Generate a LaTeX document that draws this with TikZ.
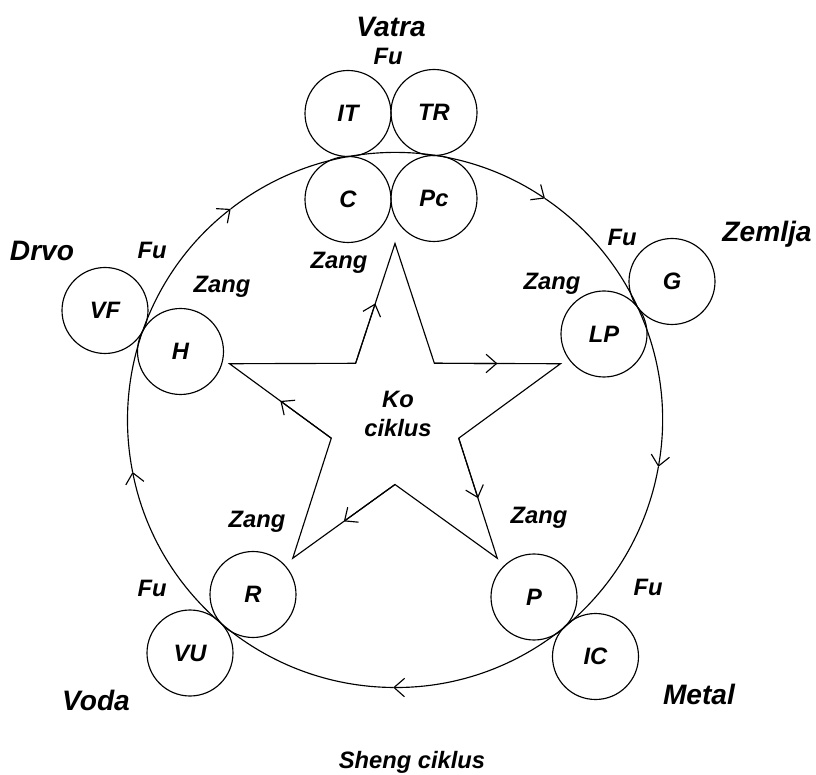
\documentclass[tikz,border=0pt]{standalone}
\usepackage{fontspec}
\setmainfont{Liberation Sans}
\usetikzlibrary{arrows.meta,calc}

\tikzset{
  txt/.style={font=\fontsize{13.5}{17}\selectfont\bfseries\itshape},
  elem/.style={font=\fontsize{16}{19}\selectfont\bfseries\itshape},
  organ/.style={circle, draw, minimum size=1.72cm, inner sep=0pt, txt},
}

\begin{document}
\begin{tikzpicture}[line width=0.65pt, >={Straight Barb[length=6pt,width=10.5pt]}]
\useasboundingbox (-7.90,-7.08) rectangle (8.42,8.40);

% Sheng ciklus
\foreach \s/\e in {191.2/127.9, 127.9/55.9, 55.9/-10.1, -10.1/-90.4, -90.4/-168.8}
  \draw[->] (\s:5.35) arc (\s:\e:5.35);

% Ko ciklus
\begin{scope}[yshift=0.05cm]
\draw (90:3.48) -- (54:1.34) -- (18:3.48) -- (-18:1.34) -- (-54:3.48) -- (-90:1.34)
  -- (-126:3.48) -- (-162:1.34) -- (162:3.48) -- (126:1.34) -- cycle;
\foreach \a in {90,18,-54,-126,-198}
  \draw[->] (\a+36:1.34) -- ($(\a+36:1.34)!.5!(\a:3.48)$);
\end{scope}
\node[txt, align=center] (ko) at (0.06,0.12) {Ko\\ciklus};

% Vatra
\node[organ] (it) at (-0.94,6.13) {IT};
\node[organ] (tr) at (0.78,6.15) {TR};
\node[organ] (c) at (-0.94,4.41) {C};
\node[organ] (pc) at (0.78,4.43) {Pc};
\node[elem] (vatra) at (-0.08,7.86) {Vatra};
\node[txt] (fuv) at (-0.14,7.28) {Fu};
\node[txt] (zangv) at (-1.12,3.14) {Zang};

% Drvo
\node[organ] (vf) at (-5.80,2.19) {VF};
\node[organ] (h) at (-4.29,1.37) {H};
\node[elem] (drvo) at (-7.06,3.38) {Drvo};
\node[txt] (fud) at (-4.86,3.40) {Fu};
\node[txt] (zangd) at (-3.46,2.66) {Zang};

% Zemlja
\node[organ] (g) at (5.54,2.77) {G};
\node[organ] (lp) at (4.18,1.72) {LP};
\node[elem] (zemlja) at (7.44,3.72) {Zemlja};
\node[txt] (fuz) at (4.54,3.66) {Fu};
\node[txt] (zangz) at (3.14,2.72) {Zang};

% Metal
\node[organ] (ic) at (4.01,-4.73) {IC};
\node[organ] (p) at (2.78,-3.54) {P};
\node[elem] (metal) at (6.08,-5.48) {Metal};
\node[txt] (fum) at (5.06,-3.34) {Fu};
\node[txt] (zangm) at (2.88,-1.96) {Zang};

% Voda
\node[organ] (vu) at (-4.10,-4.66) {VU};
\node[organ] (r) at (-2.84,-3.49) {R};
\node[elem] (voda) at (-5.98,-5.60) {Voda};
\node[txt] (fuw) at (-4.86,-3.36) {Fu};
\node[txt] (zangw) at (-2.76,-2.04) {Zang};

\node[txt] (sheng) at (0.34,-6.84) {Sheng ciklus};
\end{tikzpicture}
\end{document}
